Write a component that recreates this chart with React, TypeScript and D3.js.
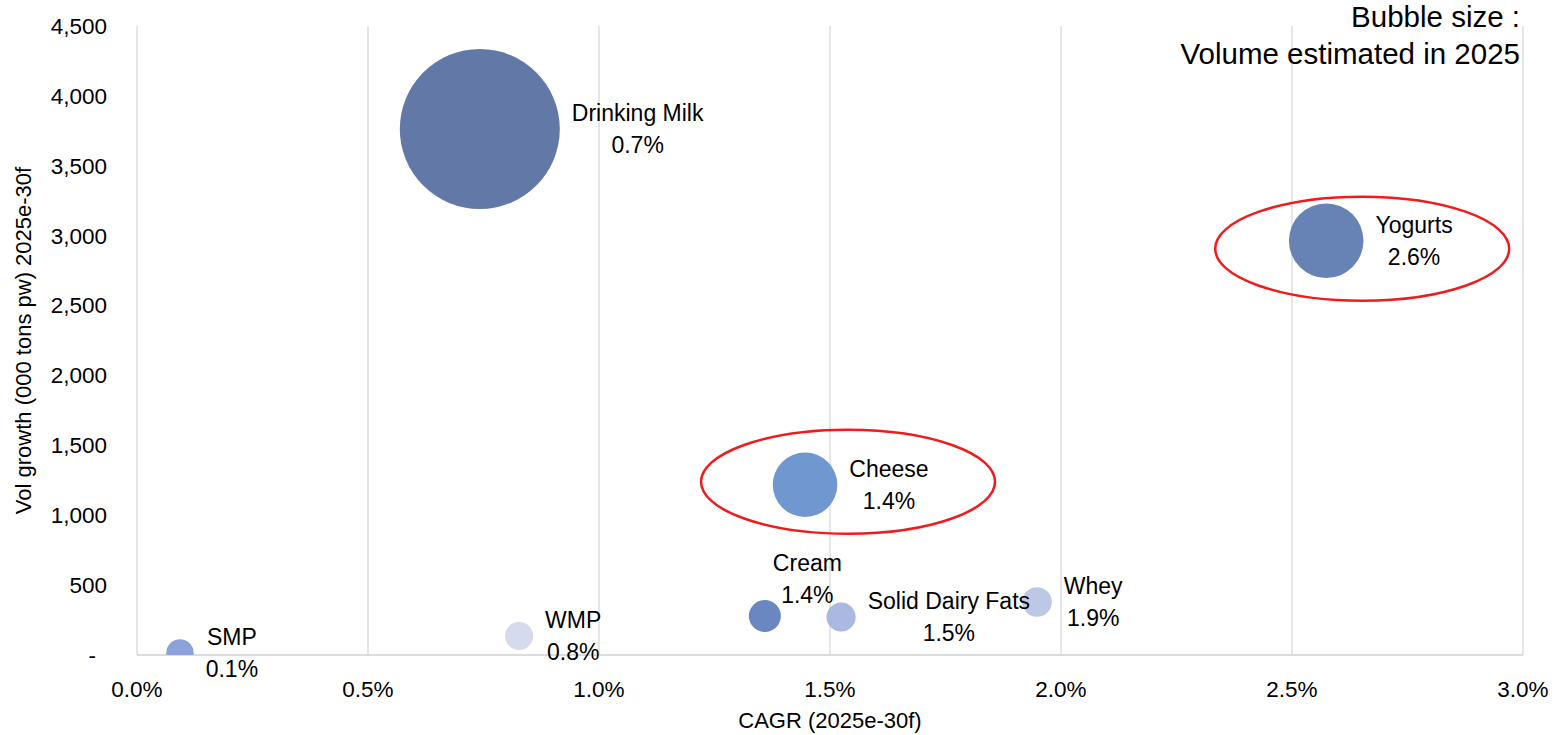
import React, { useEffect, useRef } from "react";
import * as d3 from "d3";

// dairy categories, CAGR 2025e-30f (%), volume growth (000 t pw), 2025 volume for bubble size
const categories = ["Drinking Milk", "Yogurts", "Cheese", "Cream", "Solid Dairy Fats", "Whey", "WMP", "SMP"];
const cagr = [0.742, 2.574, 1.446, 1.359, 1.524, 1.948, 0.827, 0.093];
const volGrowth = [3763, 2964, 1218, 279, 272, 379, 136, 14];
const volume2025 = [64000, 13910, 10430, 2560, 2130, 2190, 1960, 1880];
const bubbleColors = ["#6279A7", "#6783B5", "#7097D0", "#6A87C1", "#AAB9E0", "#BDC8E6", "#D5DAEC", "#8BA3D8"];

const xTicks = [0, 0.5, 1.0, 1.5, 2.0, 2.5, 3.0];
const yTicks = [0, 500, 1000, 1500, 2000, 2500, 3000, 3500, 4000, 4500];
const highlighted = ["Yogurts", "Cheese"];

const FONT = "'Liberation Sans', Arial, sans-serif";

const BubbleChart = () => {
  const ref = useRef<SVGSVGElement | null>(null);

  useEffect(() => {
    if (!ref.current) return;
    const width = 1560, height = 735;
    const left = 137, right = 1523, top = 26, bottom = 655;

    const svg = d3.select(ref.current).attr("width", width).attr("height", height);
    svg.selectAll("*").remove();

    const x = d3.scaleLinear().domain([0, 3]).range([left, right]);
    const y = d3.scaleLinear().domain([0, 4500]).range([bottom, top]);
    const r = d3.scaleSqrt().domain([0, d3.max(volume2025) as number]).range([0, 80]);

    svg.append("defs").append("clipPath").attr("id", "plot-clip")
      .append("rect")
      .attr("x", left).attr("y", top)
      .attr("width", right - left).attr("height", bottom - top);

    // vertical gridlines
    svg.append("g").selectAll("line")
      .data(xTicks)
      .enter().append("line")
      .attr("x1", d => x(d)).attr("x2", d => x(d))
      .attr("y1", top).attr("y2", bottom)
      .attr("stroke", "#D9D9D9").attr("stroke-width", 1.3);

    // x axis line
    svg.append("line")
      .attr("x1", left).attr("x2", right)
      .attr("y1", bottom).attr("y2", bottom)
      .attr("stroke", "#D0D0D0").attr("stroke-width", 1.5);

    // tick labels
    svg.append("g").selectAll("text")
      .data(xTicks)
      .enter().append("text")
      .attr("x", d => x(d)).attr("y", 697)
      .attr("text-anchor", "middle")
      .attr("font-family", FONT).attr("font-size", 22.5).attr("fill", "#000")
      .text(d => d.toFixed(1) + "%");

    svg.append("g").selectAll("text")
      .data(yTicks)
      .enter().append("text")
      .attr("x", d => d === 0 ? 96 : 107)
      .attr("y", d => y(d))
      .attr("dy", "0.35em")
      .attr("text-anchor", "end")
      .attr("font-family", FONT).attr("font-size", 22.5).attr("fill", "#000")
      .text(d => d === 0 ? "-" : d3.format(",")(d));

    // axis titles
    svg.append("text")
      .attr("x", (left + right) / 2).attr("y", 728)
      .attr("text-anchor", "middle")
      .attr("font-family", FONT).attr("font-size", 22)
      .text("CAGR (2025e-30f)");

    svg.append("text")
      .attr("transform", `translate(31,${(top + bottom) / 2}) rotate(-90)`)
      .attr("text-anchor", "middle")
      .attr("font-family", FONT).attr("font-size", 22)
      .text("Vol growth (000 tons pw) 2025e-30f");

    // bubble size note
    svg.append("text")
      .attr("x", 1520).attr("y", 27)
      .attr("text-anchor", "end")
      .attr("font-family", FONT).attr("font-size", 29.5)
      .text("Bubble size :");
    svg.append("text")
      .attr("x", 1520).attr("y", 64)
      .attr("text-anchor", "end")
      .attr("font-family", FONT).attr("font-size", 29.5)
      .text("Volume estimated in 2025");

    const rows = categories.map((name, i) => ({
      name,
      cagr: cagr[i],
      growth: volGrowth[i],
      vol: volume2025[i],
      color: bubbleColors[i],
    }));

    // bubbles (largest first so small ones stay visible)
    svg.append("g").attr("clip-path", "url(#plot-clip)")
      .selectAll("circle")
      .data(rows.slice().sort((a, b) => b.vol - a.vol))
      .enter().append("circle")
      .attr("cx", d => x(d.cagr))
      .attr("cy", d => y(d.growth))
      .attr("r", d => r(d.vol))
      .attr("fill", d => d.color);

    // data labels, placed right of the bubble; Cream label was nudged up in the original
    const labelNudge: Record<string, [number, number]> = { Cream: [-20, -37] };
    const labels = svg.append("g");
    rows.forEach(d => {
      const g = labels.append("g");
      const t1 = g.append("text")
        .attr("x", 0).attr("y", -16).attr("dy", "0.35em")
        .attr("text-anchor", "middle")
        .attr("font-family", FONT).attr("font-size", 23)
        .text(d.name);
      const t2 = g.append("text")
        .attr("x", 0).attr("y", 16).attr("dy", "0.35em")
        .attr("text-anchor", "middle")
        .attr("font-family", FONT).attr("font-size", 23)
        .text(d.cagr.toFixed(1) + "%");
      const w = Math.max(
        (t1.node() as SVGTextElement).getComputedTextLength(),
        (t2.node() as SVGTextElement).getComputedTextLength()
      );
      const [dx, dy] = labelNudge[d.name] || [0, 0];
      const cx = x(d.cagr) + r(d.vol) + 12 + w / 2 + dx;
      const cy = y(d.growth) + dy;
      g.attr("transform", `translate(${cx},${cy})`);
    });

    // red callout ellipses
    const ellipseShift: Record<string, [number, number]> = { Yogurts: [36, 8], Cheese: [43, -3] };
    svg.append("g").selectAll("ellipse")
      .data(rows.filter(d => highlighted.includes(d.name)))
      .enter().append("ellipse")
      .attr("cx", d => x(d.cagr) + ellipseShift[d.name][0])
      .attr("cy", d => y(d.growth) + ellipseShift[d.name][1])
      .attr("rx", 147).attr("ry", 52)
      .attr("fill", "none")
      .attr("stroke", "#EE1C1C").attr("stroke-width", 2.5);
  }, []);

  return <svg ref={ref} style={{ position: "absolute", left: 0, top: 0, background: "#fff" }}></svg>;
};

export default function App() {
  return <BubbleChart />;
}
